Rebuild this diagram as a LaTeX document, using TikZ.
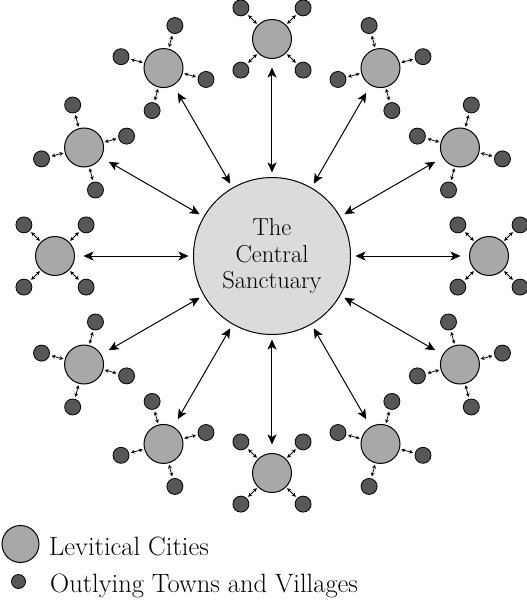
\documentclass[tikz,border=0pt]{standalone}
\usetikzlibrary{arrows.meta}
\definecolor{sanct}{gray}{0.86}
\definecolor{levit}{gray}{0.66}
\definecolor{townc}{gray}{0.34}
\begin{document}
\begin{tikzpicture}[x=1pt,y=1pt,
  sanctuary/.style={circle,draw,line width=1pt,fill=sanct,minimum size=157pt,inner sep=0pt,align=center,font=\fontsize{24.5}{26.5}\selectfont},
  city/.style={circle,draw,line width=1pt,fill=levit,minimum size=39pt,inner sep=0pt},
  town/.style={circle,draw,line width=0.8pt,fill=townc,minimum size=16pt,inner sep=0pt},
  bigarrow/.style={{Stealth[length=10pt,width=9pt,inset=2.5pt]}-{Stealth[length=10pt,width=9pt,inset=2.5pt]},line width=1pt,shorten <=8.5pt,shorten >=4.5pt},
  smallarrow/.style={{Stealth[length=3.8pt,width=3.8pt]}-{Stealth[length=3.8pt,width=3.8pt]},line width=0.75pt,shorten <=1.5pt,shorten >=2pt},
  legendtext/.style={anchor=base west,inner sep=0pt,font=\fontsize{26.5}{30}\selectfont}]
\useasboundingbox (-272,-344) rectangle (255,256);
\node[sanctuary] (sanct) at (0,0) {The\\Central\\Sanctuary};
\foreach \i in {0,...,11}{
  \pgfmathsetmacro\ang{90+30*\i}
  \node[city] (city\i) at (\ang:217) {};
  \foreach \k in {0,...,3}{
    \pgfmathsetmacro\tang{\ang+45+90*\k}
    \path (city\i) ++(\tang:44) node[town] (town\i-\k) {};
    \draw[smallarrow] (city\i) -- (town\i-\k);
  }
  \draw[bigarrow] (city\i) -- (sanct);
}
\node[city,minimum size=37pt] (legcity) at (-251.5,-288) {};
\node[town,minimum size=14pt] (legtown) at (-253.5,-325.5) {};
\node[legendtext] (legcitytext) at (-223,-299) {Levitical Cities};
\node[legendtext] (legtowntext) at (-222,-336) {Outlying Towns and Villages};
\end{tikzpicture}
\end{document}
